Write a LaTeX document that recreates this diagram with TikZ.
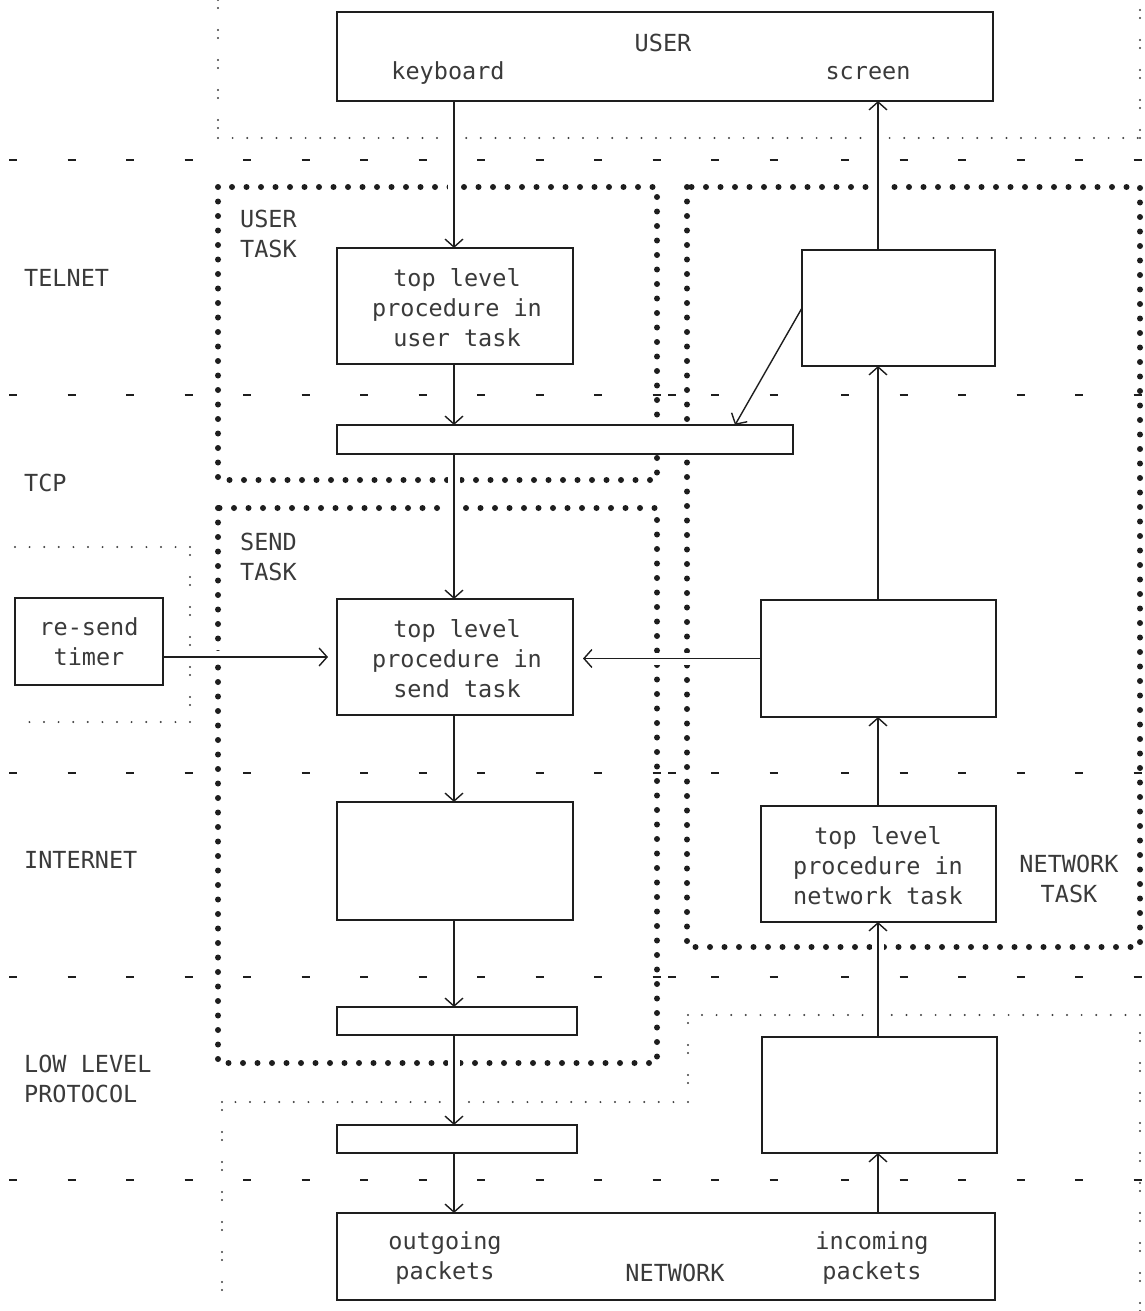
\documentclass[tikz,border=0pt]{standalone}
\usepackage{fontspec}
\newfontfamily\plotfont{DejaVu Sans Mono}
\usetikzlibrary{arrows.meta}
\pgfdeclarelayer{bg}
\pgfdeclarelayer{mid}
\pgfsetlayers{bg,mid,main}
\definecolor{ink}{HTML}{1E1E1E}
\definecolor{txtc}{HTML}{3A3A3A}
\newcommand\txtfont{\plotfont\fontsize{23.5}{30}\selectfont}
\newcommand\myarrow[3][]{%
  \begin{pgfonlayer}{mid}\draw[halo] #2 -- #3;\end{pgfonlayer}%
  \draw[arr,#1] #2 -- #3;}
\tikzset{
  box/.style={draw=ink, line width=2pt, fill=white, inner sep=0pt, outer sep=0pt},
  txt/.style={font=\txtfont, text=txtc, align=center, inner sep=0pt},
  arr/.style={draw=ink, line width=1.4pt, -{Straight Barb[length=8pt,width=18pt]}},
  halo/.style={draw=white, line width=12pt},
  heavy/.style={draw=ink, line width=6pt, line cap=round, dash pattern=on 0pt off 14.5pt},
  finedot/.style={draw=ink!85, line width=2.2pt, line cap=round, dash pattern=on 0pt off 14.6pt},
  colon/.style={draw=ink!85, line width=2.2pt, line cap=round, dash pattern=on 0pt off 8pt on 0pt off 22pt},
  dashmark/.style={draw=ink, line width=2.5pt}
}
\begin{document}
\begin{tikzpicture}[x=1pt,y=-1pt]
\useasboundingbox (0,0) rectangle (1144,1311);
\coordinate (lx) at (454,0);
\coordinate (rx) at (878,0);

% ---------- boxes ----------
\node[box, minimum width=656pt, minimum height=89pt] (userbox) at (665,56.5) {};
\node[box, minimum width=236pt, minimum height=116pt] (utbox) at (455,306) {};
\node[box, minimum width=193pt, minimum height=116pt] (telbox) at (898.5,308) {};
\node[box, minimum width=456pt, minimum height=29pt] (bar) at (565,439.5) {};
\node[box, minimum width=148pt, minimum height=87pt] (timer) at (89,641.5) {};
\node[box, minimum width=236pt, minimum height=116pt] (sendbox) at (455,657) {};
\node[box, minimum width=235pt, minimum height=117pt] (rmid) at (878.5,658.5) {};
\node[box, minimum width=236pt, minimum height=118pt] (inetbox) at (455,861) {};
\node[box, minimum width=235pt, minimum height=116pt] (ntbox) at (878.5,864) {};
\node[box, minimum width=240pt, minimum height=28pt] (bar3) at (457,1021) {};
\node[box, minimum width=235pt, minimum height=116pt] (llbox) at (879,1095) {};
\node[box, minimum width=240pt, minimum height=28pt] (bar2) at (457,1139) {};
\node[box, minimum width=658pt, minimum height=87pt] (netbox) at (666,1256.5) {};

% ---------- texts ----------
\node[txt] (tuser) at (663,43) {USER};
\node[txt] (tkey) at (448,73) {keyboard};
\node[txt] (tscreen) at (868,73) {screen};
\node[txt] (tut) at (457,308) {top level\\procedure in\\user task};
\node[txt] (tres) at (89,642) {re-send\\timer};
\node[txt] (tsend) at (457,659) {top level\\procedure in\\send task};
\node[txt] (tnt) at (878,865.5) {top level\\procedure in\\network task};
\node[txt] (tout) at (445,1258) {outgoing\\packets};
\node[txt] (tnet) at (675,1273) {NETWORK};
\node[txt] (tin) at (872,1258) {incoming\\packets};

\node[txt, anchor=west, align=left] (ltelnet) at (24,278) {TELNET};
\node[txt, anchor=west, align=left] (ltcp) at (24,483) {TCP};
\node[txt, anchor=west, align=left] (linet) at (24,860) {INTERNET};
\node[txt, anchor=west, align=left] (llow) at (24,1079) {LOW LEVEL\\PROTOCOL};
\node[txt, anchor=west, align=left] (lut) at (240,234) {USER\\TASK};
\node[txt, anchor=west, align=left] (lst) at (240,557) {SEND\\TASK};
\node[txt] (lnt) at (1069,879) {NETWORK\\TASK};

% ---------- background lines ----------
\begin{pgfonlayer}{bg}
  % layer separators
  \foreach \yy in {160,395,773,977,1180}{
    \foreach \k in {0,...,13}{\draw[dashmark] ({9+58.5*\k},\yy) -- ++(8,0);}
    \foreach \k in {0,...,5}{\draw[dashmark] ({841+58.5*\k},\yy) -- ++(8,0);}
  }
  \foreach \yy in {395,773,977}{\draw[dashmark] (668,\yy) -- ++(8,0);}
  % task boundaries
  \draw[heavy] (218,187) rectangle (657,480);
  \draw[heavy] (218,508) rectangle (657,1063);
  \draw[heavy] (687,187) rectangle (1140,947);
  % fine dotted frames
  \draw[colon] (218,0) -- (218,138);
  \draw[finedot] (218,138) -- (1140,138);
  \draw[colon] (1140,138) -- (1140,0);
  \draw[finedot] (15,547) -- (190,547);
  \draw[colon] (190,547) -- (190,722);
  \draw[finedot] (190,722) -- (15,722);
  \draw[colon] (1140,1311) -- (1140,1015);
  \draw[finedot] (1140,1015) -- (688,1015);
  \draw[colon] (688,1015) -- (688,1102);
  \draw[finedot] (688,1102) -- (222,1102);
  \draw[colon] (222,1102) -- (222,1311);
\end{pgfonlayer}

% ---------- connectors ----------
\coordinate (diagend) at (735,425);
\myarrow{(lx |- userbox.south)}{(lx |- utbox.north)}
\myarrow{(lx |- utbox.south)}{(lx |- bar.north)}
\myarrow{(lx |- bar.south)}{(lx |- sendbox.north)}
\myarrow{(lx |- sendbox.south)}{(lx |- inetbox.north)}
\myarrow{(lx |- inetbox.south)}{(lx |- bar3.north)}
\myarrow{(lx |- bar3.south)}{(lx |- bar2.north)}
\myarrow{(lx |- bar2.south)}{(lx |- netbox.north)}
\myarrow{(rx |- netbox.north)}{(rx |- llbox.south)}
\myarrow{(rx |- llbox.north)}{(rx |- ntbox.south)}
\myarrow{(rx |- ntbox.north)}{(rx |- rmid.south)}
\myarrow{(rx |- rmid.north)}{(rx |- telbox.south)}
\myarrow{(rx |- telbox.north)}{(rx |- userbox.south)}
\myarrow{(telbox.west)}{(diagend)}
\myarrow[shorten >=10pt]{(rmid.west)}{(rmid.west -| sendbox.east)}
\myarrow[shorten >=9pt]{(timer.east |- sendbox.west)}{(sendbox.west)}
\end{tikzpicture}
\end{document}
